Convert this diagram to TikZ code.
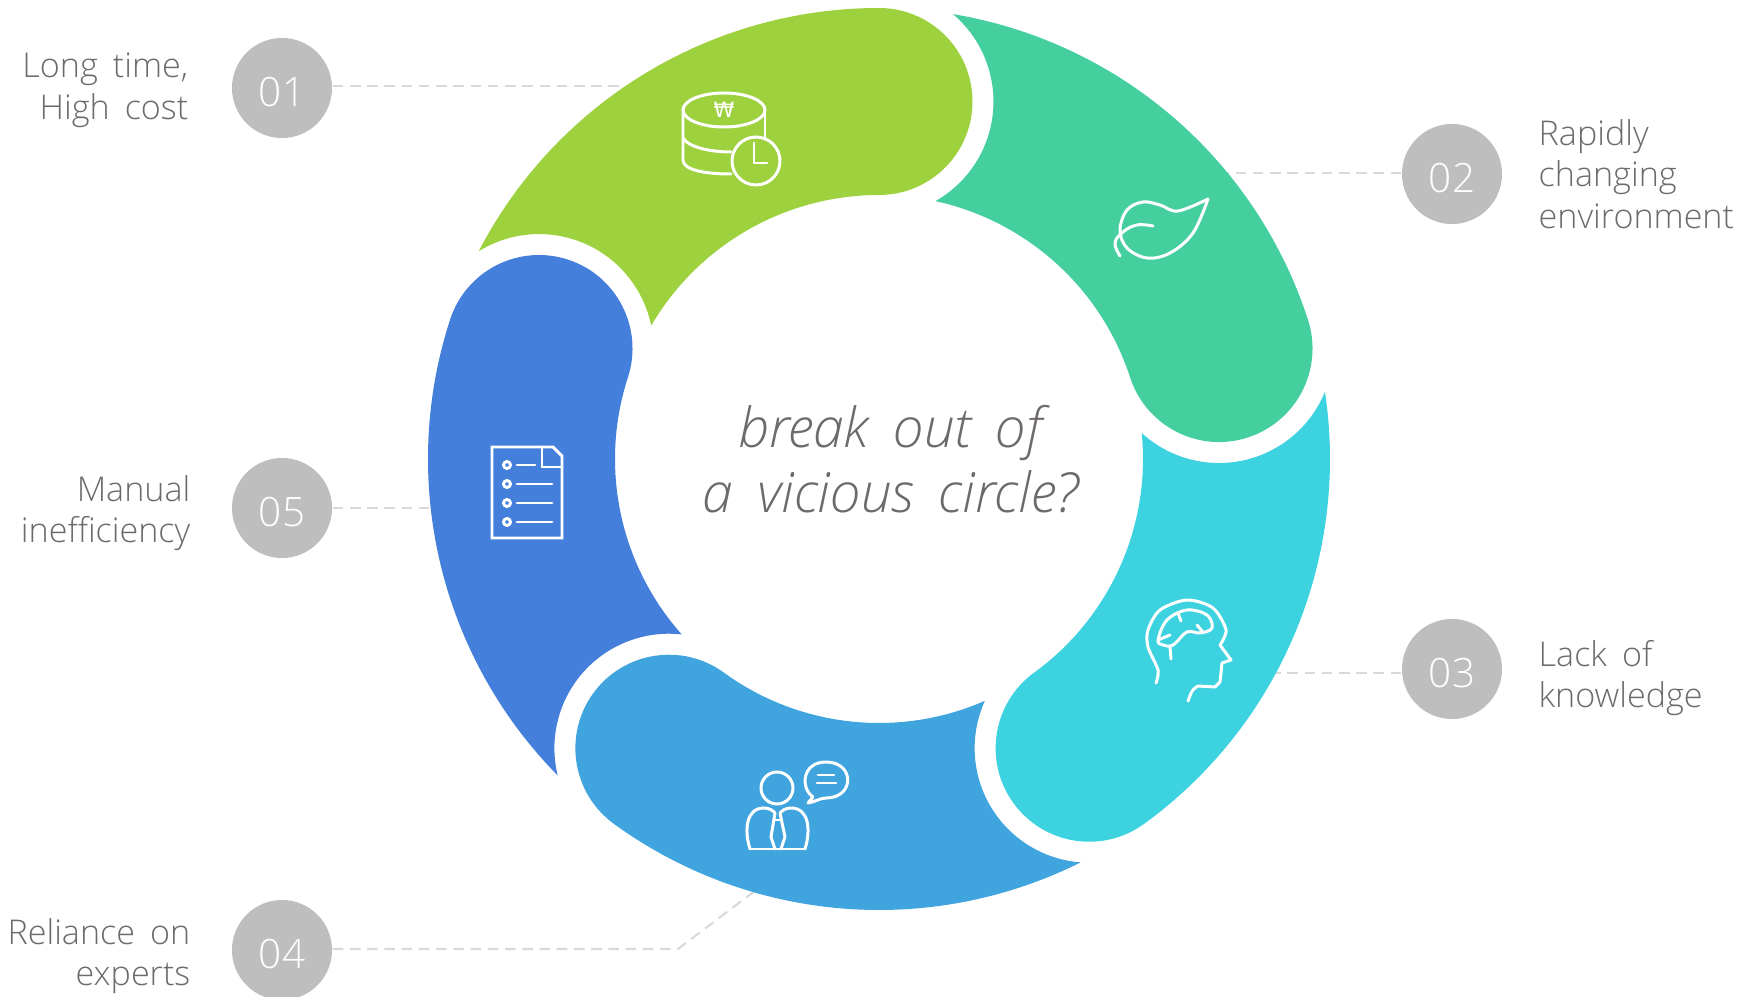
\documentclass[tikz,border=0pt]{standalone}
\usepackage{fontspec}
\setmainfont[WordSpace=1.7]{Open Sans Light}[ItalicFont=Open Sans Light Italic]
\newfontfamily\wonfont{DejaVu Sans}
\definecolor{gray1}{HTML}{BEBEBE}
\definecolor{gray2}{HTML}{6E6A6A}
\definecolor{gray3}{HTML}{D9D9D9}
\definecolor{col01}{HTML}{9DD13E}
\definecolor{col02}{HTML}{45CF9F}
\definecolor{col03}{HTML}{3DD2E0}
\definecolor{col04}{HTML}{40A4DF}
\definecolor{col05}{HTML}{447FDB}
\newcommand{\ringseg}[2]{\fill[#1,rotate=#2] (152.55:451) arc[start angle=152.55,end angle=90,radius=451]
    arc[start angle=90,end angle=-90,radius=93.5]
    arc[start angle=90,end angle=149.65,radius=264]
    arc[start angle=11.56,end angle=121.75,radius=114.5] -- cycle;}
\newcommand{\numtxt}[1]{\smash{\raisebox{-5.4pt}{#1}}}
\begin{document}
\begin{tikzpicture}[x=0.01cm,y=-0.01cm,
    num/.style={circle,fill=gray1,text=white,minimum size=1cm,inner sep=0pt,font=\fontsize{11.5}{14}\selectfont},
    lblr/.style={anchor=east,align=right,text=gray2,font=\fontsize{9.7}{11.8}\selectfont,inner sep=0pt},
    lbll/.style={anchor=west,align=left,text=gray2,font=\fontsize{9.7}{11.8}\selectfont,inner sep=0pt},
    dashline/.style={gray3,line width=0.6pt,dash pattern=on 3pt off 1.9pt},
    icon/.style={white,line width=0.85pt,line join=round,line cap=round}]
  \useasboundingbox (0,0) rectangle (1744,997);
  % numbers
  \node[num] (num01) at (282,88) {\numtxt{01}};
  \node[num] (num02) at (1452,174) {\numtxt{02}};
  \node[num] (num03) at (1452,669) {\numtxt{03}};
  \node[num] (num04) at (282,950) {\numtxt{04}};
  \node[num] (num05) at (282,508) {\numtxt{05}};
  % labels
  \node[lblr] (txt01) at (189,90) {Long time,\\High cost};
  \node[lbll] (txt02) at (1538,174) {Rapidly\\changing\\environment};
  \node[lbll] (txt03) at (1538,678) {Lack of\\knowledge};
  \node[lblr] (txt04) at (191,956) {Reliance on\\experts};
  \node[lblr] (txt05) at (191,513) {Manual\\inefficiency};
  % dashed connectors
  \coordinate (end01) at (640,86);
  \coordinate (end02) at (1220,173);
  \coordinate (end03) at (1270,673);
  \coordinate (bend04) at (678,949);
  \coordinate (end04) at (760,887);
  \coordinate (end05) at (440,508);
  \draw[dashline] (num01.east |- end01) -- (end01);
  \draw[dashline] (num02.west |- end02) -- (end02);
  \draw[dashline] (num03.west |- end03) -- (end03);
  \draw[dashline] (num04.east |- bend04) -- (bend04) -- (end04);
  \draw[dashline] (num05.east |- end05) -- (end05);
  % ring
  \begin{scope}[shift={(879,459)},y=0.01cm]
    \ringseg{col01}{0}
    \ringseg{col02}{-72}
    \ringseg{col03}{-144}
    \ringseg{col04}{-216}
    \ringseg{col05}{-288}
  \end{scope}
  % middle text
  \node[text=gray2,align=center,inner sep=0pt,font=\fontsize{15.7}{18.4}\selectfont\itshape] (mid) at (890,459) {break out of\\a vicious circle?};
  % coins
  \draw[icon] (724,110) ellipse (41 and 17);
  \draw[icon] (683,110) -- (683,160) .. controls (683,170) and (705,174) .. (731,174);
  \draw[icon] (683,138) .. controls (688,147) and (710,152) .. (731,152);
  \draw[icon] (765,110) -- (765,137);
  \draw[icon] (756,161) circle (24);
  \draw[icon] (754,143) -- (754,163) -- (767,163);
  \node[white,inner sep=0pt,font=\wonfont\fontsize{6}{6}\selectfont] (won) at (724,110) {₩};
  % leaf
  \draw[icon] plot[smooth,tension=.6] coordinates {(1208,199) (1178,211) (1160,205) (1143,202) (1127,210) (1120,230) (1127,248) (1147,258) (1170,253) (1193,233) (1208,199)};
  \draw[icon] plot[smooth,tension=.7] coordinates {(1153,226) (1137,225) (1123,232) (1115,243) (1120,256)};
  % head
  \draw[icon] plot[smooth,tension=.5] coordinates {(1156,683) (1158,670) (1148,647) (1148,630) (1160,610) (1187,600) (1213,608) (1226,630) (1220,645)};
  \draw[icon] (1220,645) -- (1231,660) -- (1222,663) -- (1220,682) -- (1215,687) -- (1198,686) .. controls (1192,690) .. (1188,701);
  \draw[icon] plot[smooth cycle,tension=.6] coordinates {(1158,640) (1167,620) (1187,610) (1207,615) (1212,628) (1200,633) (1187,632) (1173,645) (1163,645)};
  \draw[icon] (1170,647) -- (1171,659);
  \draw[icon] (1178,613) -- (1181,621);
  \draw[icon] (1197,625) -- (1202,631);
  \draw[icon] (1158,640) -- (1170,635);
  % person
  \draw[icon] (777,788) circle (16);
  \draw[icon] (750,849) .. controls (744,830) and (746,808) .. (764,808) .. controls (770,808) and (773,811) .. (775,813) -- (771,837) -- (775,849);
  \draw[icon] (805,849) .. controls (811,830) and (809,808) .. (791,808) .. controls (785,808) and (782,811) .. (780,813) -- (785,837) -- (781,849);
  \draw[icon] (750,849) -- (805,849);
  \draw[icon] (775,820) -- (780,820);
  \draw[icon] (813,797) .. controls (800,788) and (802,762) .. (826,762) .. controls (855,762) and (855,798) .. (826,798) .. controls (820,798) and (815,802) .. (808,803) -- (813,797);
  \draw[icon] (818,775) -- (834,775);
  \draw[icon] (817,783) -- (836,783);
  % list
  \draw[icon,line cap=butt,line join=miter] (553,447) -- (492,447) -- (492,538) -- (562,538) -- (562,456) -- cycle;
  \draw[icon,line join=miter] (542,447) -- (542,467) -- (562,467);
  \draw[icon] (507,465) circle (3.5);
  \draw[icon] (507,484) circle (3.5);
  \draw[icon] (507,503) circle (3.5);
  \draw[icon] (507,522) circle (3.5);
  \draw[icon] (517,465) -- (535,465);
  \draw[icon] (517,484) -- (552,484);
  \draw[icon] (517,503) -- (552,503);
  \draw[icon] (517,522) -- (552,522);
\end{tikzpicture}
\end{document}
